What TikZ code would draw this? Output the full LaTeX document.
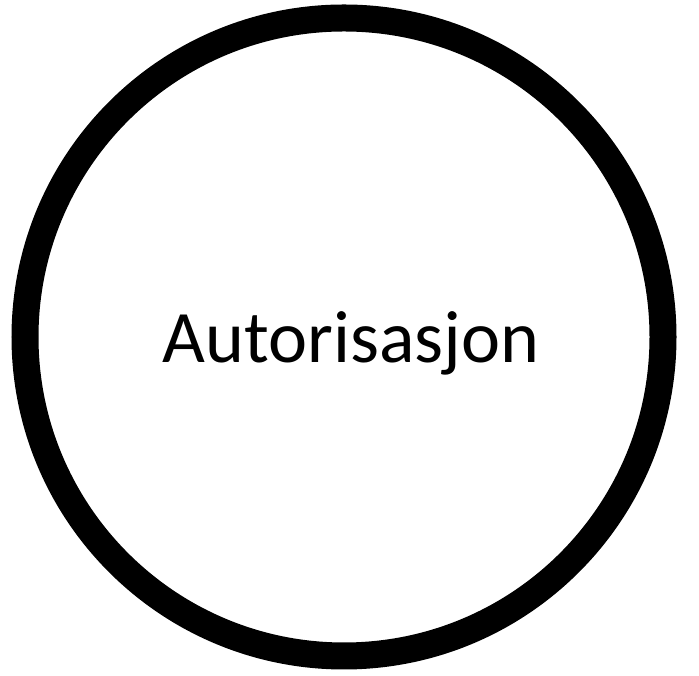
\documentclass[tikz,border=0pt]{standalone}
\usepackage{fontspec}
\setmainfont{Carlito}
\begin{document}
\begin{tikzpicture}[x=1pt,y=1pt]
\useasboundingbox (0,0) rectangle (699,676);
\tikzset{ring/.style={draw=black,line width=27pt,fill=white}}
\draw[ring] (344,339) circle (319);
\node[anchor=base,inner sep=0pt,font=\fontsize{74}{88}\selectfont] (lbl) at (351,313) {Autorisasjon};
\end{tikzpicture}
\end{document}
